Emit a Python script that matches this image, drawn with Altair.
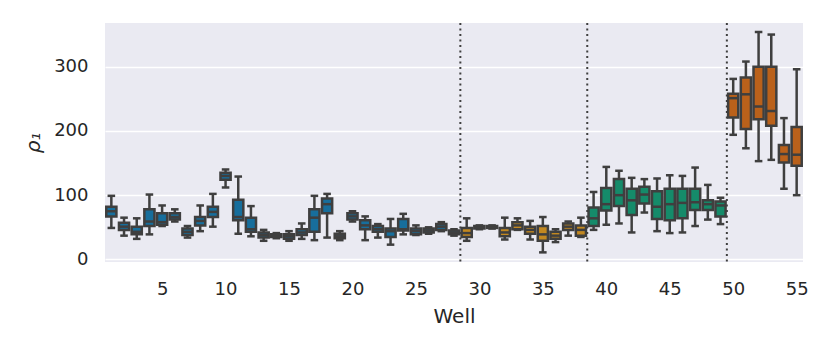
import altair as alt
import pandas as pd

wells = list(range(1, 56))
low = [49, 37, 32, 39, 52, 59, 34, 44, 51, 112, 40, 36, 29, 33, 29, 32, 30, 34, 30, 59,
       30, 34, 23, 39, 38, 40, 44, 37, 29, 47, 48, 31, 46, 31, 11, 27, 37, 35,
       46, 54, 56, 42, 73, 44, 41, 42, 52, 62, 55,
       194, 173, 153, 155, 110, 100]
q1 = [67, 46, 39, 52, 54, 62, 38, 53, 66, 124, 61, 43, 34, 35, 32, 38, 43, 72, 33, 62,
      47, 43, 35, 45, 39, 42, 46, 39, 35, 48, 49, 36, 47, 40, 29, 32, 46, 37,
      52, 76, 83, 69, 87, 63, 61, 64, 77, 77, 67,
      221, 203, 218, 208, 151, 146]
med = [75, 51, 43, 59, 58, 66, 43, 60, 74, 130, 66, 47, 38, 37, 36, 42, 65, 86, 36, 67,
       53, 47, 44, 47, 44, 45, 51, 42, 41, 50, 50, 42, 53, 46, 39, 37, 51, 46,
       64, 86, 100, 92, 101, 82, 86, 88, 89, 86, 84,
       251, 257, 238, 231, 164, 163]
q3 = [82, 57, 51, 78, 72, 72, 48, 66, 82, 135, 93, 65, 42, 39, 39, 47, 78, 95, 40, 72,
      61, 52, 48, 63, 48, 48, 55, 45, 49, 52, 52, 49, 58, 51, 52, 43, 56, 53,
      81, 111, 125, 110, 113, 106, 110, 110, 110, 92, 90,
      258, 283, 300, 300, 178, 206]
high = [99, 65, 64, 101, 84, 78, 52, 84, 102, 140, 129, 83, 46, 41, 44, 56, 99, 102, 44, 75,
        67, 55, 63, 71, 53, 50, 58, 47, 64, 53, 53, 65, 64, 60, 66, 47, 59, 65,
        105, 144, 138, 127, 125, 126, 131, 130, 143, 116, 96,
        281, 308, 354, 350, 220, 296]
group = ["A"] * 28 + ["B"] * 10 + ["C"] * 11 + ["D"] * 6
group_names = ["A", "B", "C", "D"]
group_colors = ["#176e9c", "#c38820", "#158b6a", "#ba611b"]
dividers = [28.5, 38.5, 49.5]
x_ticks = [5, 10, 15, 20, 25, 30, 35, 40, 45, 50, 55]
y_ticks = [0, 100, 200, 300]

df = pd.DataFrame({"well": wells, "low": low, "q1": q1, "med": med,
                   "q3": q3, "high": high, "group": group})
div_df = pd.DataFrame({"pos": dividers})

LINE = "#3f3f3f"
xs = alt.Scale(domain=[0.5, 55.5], nice=False, zero=False)
ys = alt.Scale(domain=[-4, 368], nice=False, zero=False)

base = alt.Chart(df).transform_calculate(
    bl="datum.well - 0.4", br="datum.well + 0.4",
    cl="datum.well - 0.2", cr="datum.well + 0.2")

xaxis = alt.Axis(values=x_ticks, grid=False, ticks=False, domain=False,
                 labelPadding=18, title="Well", titlePadding=8)
yaxis = alt.Axis(values=y_ticks, grid=True, ticks=False, domain=False,
                 labelPadding=17, title="ρ₁", titlePadding=10,
                 titleFontStyle="italic")

whisk = base.mark_rule(color=LINE, strokeWidth=2.5).encode(
    x=alt.X("well:Q", scale=xs, axis=xaxis),
    y=alt.Y("low:Q", scale=ys, axis=yaxis),
    y2="high:Q")

cap_lo = base.mark_rule(color=LINE, strokeWidth=2.5, strokeCap="square").encode(
    x=alt.X("cl:Q", scale=xs), x2="cr:Q", y=alt.Y("low:Q", scale=ys))
cap_hi = base.mark_rule(color=LINE, strokeWidth=2.5, strokeCap="square").encode(
    x=alt.X("cl:Q", scale=xs), x2="cr:Q", y=alt.Y("high:Q", scale=ys))

box = base.mark_bar(stroke=LINE, strokeWidth=2.5).encode(
    x=alt.X("bl:Q", scale=xs), x2="br:Q",
    y=alt.Y("q1:Q", scale=ys), y2="q3:Q",
    fill=alt.Fill("group:N", scale=alt.Scale(domain=group_names, range=group_colors),
                  legend=None))

median = base.mark_rule(color=LINE, strokeWidth=2.5).encode(
    x=alt.X("bl:Q", scale=xs), x2="br:Q", y=alt.Y("med:Q", scale=ys))

divs = alt.Chart(div_df).mark_rule(color=LINE, strokeWidth=2, strokeDash=[2, 3.5]).encode(
    x=alt.X("pos:Q", scale=xs))

chart = alt.layer(whisk, cap_lo, cap_hi, box, median, divs).properties(
    width=698, height=239,
    autosize=alt.AutoSizeParams(type="none"),
    padding={"left": 97, "top": 15, "right": 10, "bottom": 80},
).configure_view(fill="#eaeaf2", stroke=None).configure_axis(
    labelFont="DejaVu Sans", titleFont="DejaVu Sans",
    labelFontSize=18, titleFontSize=20,
    labelColor="#262626", titleColor="#262626",
    titleFontWeight="normal",
    gridColor="white", gridWidth=1.6,
)

chart.save("out.html", embed_options={"renderer": "svg", "actions": False})
